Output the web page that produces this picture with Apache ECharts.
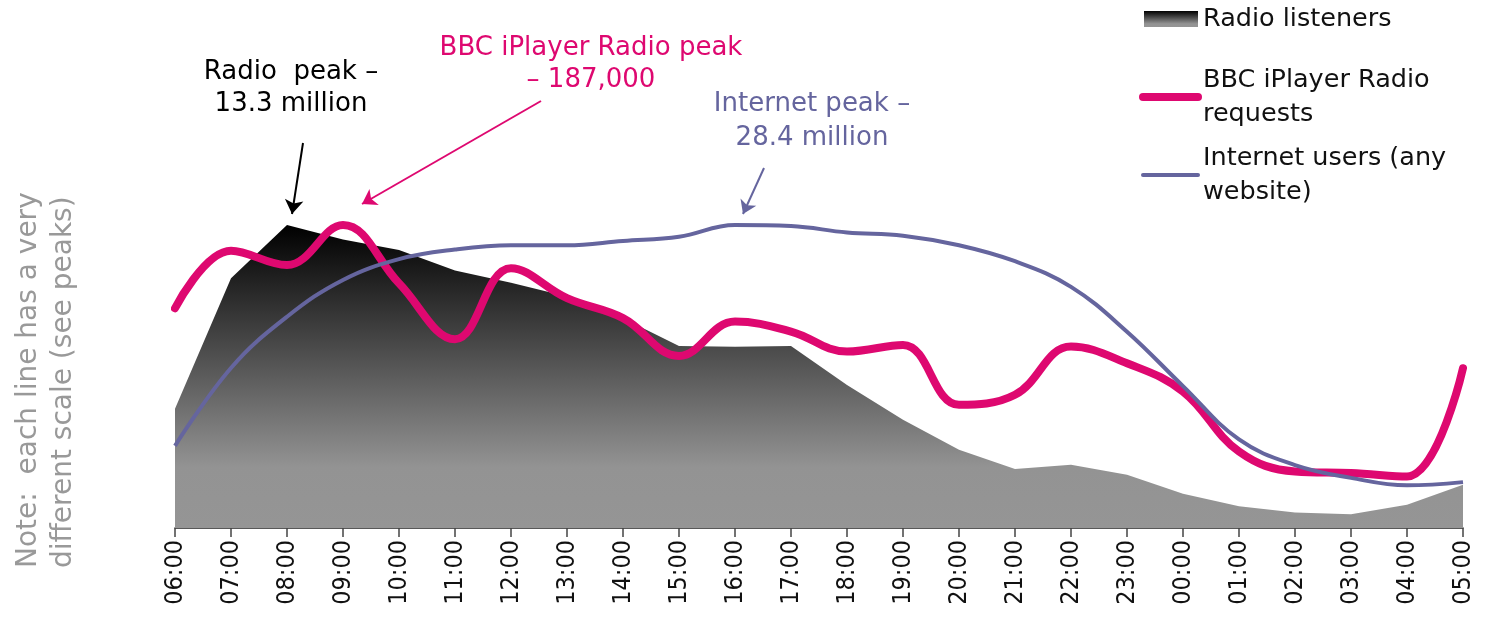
<!DOCTYPE html>
<html>
<head>
<meta charset="utf-8">
<script src="https://cdn.jsdelivr.net/npm/echarts@6/dist/echarts.min.js"></script>
<style>
  html, body { margin: 0; padding: 0; background: #fff; }
  #main { width: 1487px; height: 619px; }
</style>
</head>
<body>
<div id="main"></div>
<script>
// hours of the day, 06:00 round to 05:00
let hours = ['06:00','07:00','08:00','09:00','10:00','11:00','12:00','13:00','14:00','15:00','16:00','17:00',
  '18:00','19:00','20:00','21:00','22:00','23:00','00:00','01:00','02:00','03:00','04:00','05:00'];
// radio listeners, millions (peak 13.3m at 08:00)
let radioListeners = [5.23, 10.96, 13.3, 12.67, 12.2, 11.3, 10.77, 10.16, 9.21, 7.99, 7.96, 7.99,
  6.28, 4.75, 3.43, 2.59, 2.78, 2.34, 1.50, 0.95, 0.68, 0.60, 1.02, 1.90];
// BBC iPlayer Radio requests (peak 187,000 at 09:00)
let iplayerRequests = [135600, 171100, 162300, 187000, 151000, 116500, 160300, 141800, 129500, 106200, 127400, 121200,
  108900, 113000, 76000, 82200, 112000, 101700, 84200, 47200, 34900, 33900, 31800, 98600];
// internet users, millions (peak 28.4m)
let internetUsers = [7.7, 15.0, 19.8, 23.25, 25.2, 26.1, 26.5, 26.5, 26.9, 27.3, 28.4, 28.3,
  27.7, 27.4, 26.5, 25.0, 22.6, 18.4, 13.3, 8.3, 5.9, 4.7, 4.0, 4.3];

let font = "'DejaVu Sans', sans-serif";
let pink = '#DE0870';
let purple = '#65659E';
let radioFill = new echarts.graphic.LinearGradient(0, 0, 0, 1, [
  {offset: 0, color: '#000000'},
  {offset: 0.8, color: '#939393'},
  {offset: 1, color: '#959595'}
]);
let legendText = {fontFamily: font, fontSize: 25.5, color: '#111', lineHeight: 34};

let chart = echarts.init(document.getElementById('main'));
let option = {
  animation: false,
  textStyle: {fontFamily: font},
  grid: {left: 175, right: 24, top: 200, bottom: 91},
  legend: [
    {
      left: 1144, top: 2, padding: 0, itemWidth: 54, itemHeight: 16, selectedMode: false,
      data: [{name: 'Radio listeners', icon: 'rect', itemStyle: {color: radioFill}}],
      textStyle: legendText
    },
    {
      left: 1139, top: 46, padding: 0, itemWidth: 55, itemHeight: 16, selectedMode: false,
      data: [{name: 'BBC iPlayer Radio requests', itemStyle: {opacity: 0}}],
      lineStyle: {width: 8, color: pink, cap: 'round'},
      formatter: function(){ return 'BBC iPlayer Radio\nrequests'; },
      textStyle: Object.assign({padding: [34, 0, 0, 0]}, legendText)
    },
    {
      left: 1141, top: 124, padding: 0, itemWidth: 55, itemHeight: 16, selectedMode: false,
      data: [{name: 'Internet users (any website)', itemStyle: {opacity: 0}}],
      lineStyle: {width: 4, color: purple, cap: 'round'},
      formatter: function(){ return 'Internet users (any\nwebsite)'; },
      textStyle: Object.assign({padding: [34, 0, 0, 0]}, legendText)
    }
  ],
  xAxis: {
    type: 'category',
    data: hours,
    boundaryGap: false,
    axisLine: {lineStyle: {color: '#222', width: 1.5}},
    axisTick: {show: true, length: 9, lineStyle: {color: '#444', width: 1.5}, alignWithLabel: true},
    axisLabel: {rotate: 90, margin: 12, fontSize: 25, color: '#111',
      fontFamily: "'DejaVu Sans Condensed', 'DejaVu Sans', sans-serif", interval: 0}
  },
  yAxis: [
    {type: 'value', min: 0, max: 14.4, show: false},
    {type: 'value', min: 0, max: 202400, show: false},
    {type: 'value', min: 0, max: 30.74, show: false}
  ],
  graphic: [
    {
      type: 'text', x: 46, y: 568, rotation: Math.PI / 2,
      style: {text: 'Note:  each line has a very\ndifferent scale (see peaks)', font: '28px ' + font,
        fill: '#999', align: 'left', verticalAlign: 'middle', lineHeight: 35}
    },
    {
      type: 'text', x: 291, y: 88,
      style: {text: 'Radio  peak \u2013\n13.3 million', font: '26px ' + font, fill: '#000',
        align: 'center', verticalAlign: 'middle', lineHeight: 32}
    },
    {
      type: 'text', x: 591, y: 64,
      style: {text: 'BBC iPlayer Radio peak\n\u2013 187,000', font: '26px ' + font, fill: pink,
        align: 'center', verticalAlign: 'middle', lineHeight: 32}
    },
    {
      type: 'text', x: 812, y: 121,
      style: {text: 'Internet peak \u2013\n28.4 million', font: '26px ' + font, fill: purple,
        align: 'center', verticalAlign: 'middle', lineHeight: 34}
    }
  ],
  series: [
    {
      name: 'Radio listeners',
      type: 'line',
      yAxisIndex: 0,
      data: radioListeners,
      symbol: 'none',
      smooth: false,
      lineStyle: {width: 0},
      itemStyle: {color: '#555'},
      areaStyle: {color: radioFill, opacity: 1},
      z: 1,
      markLine: {
        silent: true, symbol: ['none', 'arrow'], symbolSize: 14,
        label: {show: false},
        lineStyle: {color: '#000', width: 2, type: 'solid'},
        data: [[{x: 303, y: 143}, {x: 292, y: 214}]]
      }
    },
    {
      name: 'BBC iPlayer Radio requests',
      type: 'line',
      yAxisIndex: 1,
      data: iplayerRequests,
      symbol: 'none',
      smooth: 0.4,
      lineStyle: {color: pink, width: 8, cap: 'round'},
      itemStyle: {color: pink},
      z: 2,
      markLine: {
        silent: true, symbol: ['none', 'arrow'], symbolSize: 14,
        label: {show: false},
        lineStyle: {color: pink, width: 2, type: 'solid'},
        data: [[{x: 541, y: 101}, {x: 362, y: 204}]]
      }
    },
    {
      name: 'Internet users (any website)',
      type: 'line',
      yAxisIndex: 2,
      data: internetUsers,
      symbol: 'none',
      smooth: 0.4,
      lineStyle: {color: purple, width: 4},
      itemStyle: {color: purple},
      z: 3,
      markLine: {
        silent: true, symbol: ['none', 'arrow'], symbolSize: 13,
        label: {show: false},
        lineStyle: {color: purple, width: 2, type: 'solid'},
        data: [[{x: 764, y: 168}, {x: 743, y: 214}]]
      }
    }
  ]
};
chart.setOption(option);
</script>
</body>
</html>
